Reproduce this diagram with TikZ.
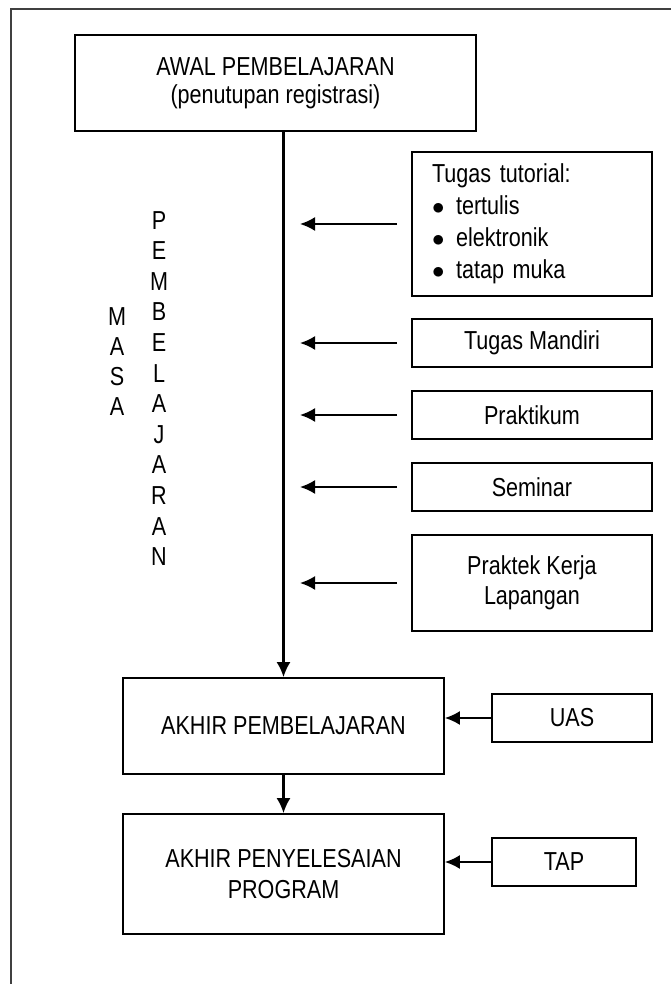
\documentclass[tikz,border=0pt]{standalone}
\usepackage{fontspec}
\setmainfont{Liberation Sans}[FakeStretch=0.83]
\usetikzlibrary{arrows.meta}

\begin{document}
\begin{tikzpicture}[>={Latex[length=15pt,width=14pt]}, x=1pt, y=-1pt,
	box/.style={draw, line width=1.7pt, align=center, inner sep=0pt, font=\fontsize{26}{30}\selectfont},
	huruf/.style={align=center, inner sep=0pt, font=\fontsize{26}{30}\selectfont}]
		\useasboundingbox (0,0) rectangle (671,984);
		\draw[line width=1.3pt, black!75] (11,984) -- (11,9) -- (671,9);
		% tahap utama
		\node[box, minimum width=401, minimum height=96] (awal) at (275.5,83) {AWAL PEMBELAJARAN\\[-2pt](penutupan registrasi)};
		\node[box, minimum width=321, minimum height=96] (akhir) at (283.5,726) {AKHIR PEMBELAJARAN};
		\node[box, minimum width=321, minimum height=120] (peny) at (283.5,874) {AKHIR PENYELESAIAN\\[1pt]PROGRAM};
		% kegiatan
		\node[box, minimum width=240, minimum height=144, text width=200, align=left, font=\fontsize{26}{32}\selectfont] (tut) at (532,224) {Tugas tutorial:\\
			\makebox[24pt][l]{$\bullet$}tertulis\\
			\makebox[24pt][l]{$\bullet$}elektronik\\
			\makebox[24pt][l]{$\bullet$}tatap muka};
		\node[box, minimum width=240, minimum height=48] (mandiri) at (532,343) {Tugas Mandiri};
		\node[box, minimum width=240, minimum height=48] (praktikum) at (532,415) {Praktikum};
		\node[box, minimum width=240, minimum height=48] (seminar) at (532,487) {Seminar};
		\node[box, minimum width=240, minimum height=96] (pkl) at (532,583) {Praktek Kerja\\Lapangan};
		\node[box, minimum width=160, minimum height=48] (uas) at (572,718) {UAS};
		\node[box, minimum width=144, minimum height=48] (tap) at (564,862) {TAP};
		% label samping
		\node[huruf] (masa) at (117,362) {M\\A\\S\\A};
		\node[huruf, font=\fontsize{26}{30.6}\selectfont] (pemb) at (159,388.5) {P\\E\\M\\B\\E\\L\\A\\J\\A\\R\\A\\N};
		% panah
		\coordinate (ujung) at (300,0);
		\draw[->, line width=2.2pt] (awal.south -| akhir.north) -- (akhir.north);
		\draw[->, line width=2.2pt] (akhir) -- (peny);
		\draw[->, line width=2pt, shorten <=14pt] (tut.west) -- (tut.west -| ujung);
		\draw[->, line width=2pt, shorten <=14pt] (mandiri.west) -- (mandiri.west -| ujung);
		\draw[->, line width=2pt, shorten <=14pt] (praktikum.west) -- (praktikum.west -| ujung);
		\draw[->, line width=2pt, shorten <=14pt] (seminar.west) -- (seminar.west -| ujung);
		\draw[->, line width=2pt, shorten <=14pt] (pkl.west) -- (pkl.west -| ujung);
		\draw[->, line width=2pt] (uas.west) -- (uas.west -| akhir.east);
		\draw[->, line width=2pt] (tap.west) -- (tap.west -| peny.east);
\end{tikzpicture}
\end{document}
